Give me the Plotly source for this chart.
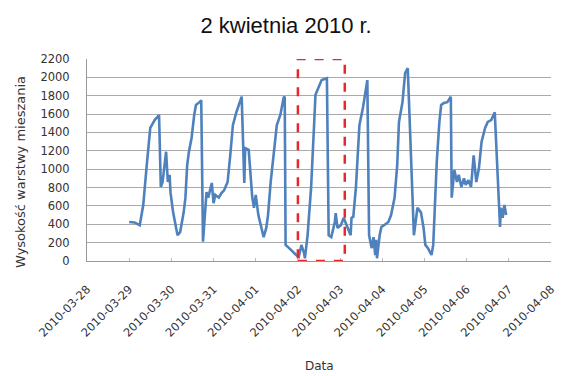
import plotly.graph_objects as go

# Data (time, mixing-layer height)
times = [
    "2010-03-29 00:00", "2010-03-29 03:00", "2010-03-29 06:00", "2010-03-29 08:00",
    "2010-03-29 10:00", "2010-03-29 12:00", "2010-03-29 14:30", "2010-03-29 17:00",
    "2010-03-29 18:00", "2010-03-29 19:00", "2010-03-29 21:00", "2010-03-29 22:00",
    "2010-03-29 23:00", "2010-03-29 23:30", "2010-03-30 01:00", "2010-03-30 03:30",
    "2010-03-30 05:00", "2010-03-30 07:00", "2010-03-30 08:00", "2010-03-30 09:00",
    "2010-03-30 10:00", "2010-03-30 11:30", "2010-03-30 13:00", "2010-03-30 14:00",
    "2010-03-30 16:00", "2010-03-30 17:00", "2010-03-30 18:00", "2010-03-30 20:00",
    "2010-03-30 21:00", "2010-03-30 23:00", "2010-03-31 00:00", "2010-03-31 01:00",
    "2010-03-31 03:00", "2010-03-31 04:30", "2010-03-31 06:00", "2010-03-31 08:00",
    "2010-03-31 09:30", "2010-03-31 11:00", "2010-03-31 13:00", "2010-03-31 16:00",
    "2010-03-31 17:30", "2010-03-31 18:00", "2010-03-31 20:00", "2010-03-31 21:00",
    "2010-03-31 22:00", "2010-03-31 23:00", "2010-04-01 00:00", "2010-04-01 01:30",
    "2010-04-01 03:00", "2010-04-01 04:30", "2010-04-01 06:00", "2010-04-01 07:00",
    "2010-04-01 08:30", "2010-04-01 10:30", "2010-04-01 12:00", "2010-04-01 14:00",
    "2010-04-01 16:00", "2010-04-01 16:30", "2010-04-01 17:00", "2010-04-01 19:00",
    "2010-04-01 21:00", "2010-04-01 23:00", "2010-04-02 00:30", "2010-04-02 02:00",
    "2010-04-02 03:30", "2010-04-02 04:00", "2010-04-02 05:30", "2010-04-02 07:30",
    "2010-04-02 09:00", "2010-04-02 10:00", "2010-04-02 13:30", "2010-04-02 16:30",
    "2010-04-02 17:30", "2010-04-02 19:00", "2010-04-02 21:00", "2010-04-02 21:30",
    "2010-04-02 22:30", "2010-04-03 00:30", "2010-04-03 02:00", "2010-04-03 03:30",
    "2010-04-03 05:00", "2010-04-03 06:00", "2010-04-03 06:30", "2010-04-03 07:30",
    "2010-04-03 09:00", "2010-04-03 10:00", "2010-04-03 11:00", "2010-04-03 13:00",
    "2010-04-03 14:30", "2010-04-03 15:30", "2010-04-03 16:30", "2010-04-03 18:00",
    "2010-04-03 19:00", "2010-04-03 20:00", "2010-04-03 20:30", "2010-04-03 21:00",
    "2010-04-03 22:30", "2010-04-03 23:30", "2010-04-04 01:00", "2010-04-04 03:30",
    "2010-04-04 05:00", "2010-04-04 07:00", "2010-04-04 08:30", "2010-04-04 09:30",
    "2010-04-04 11:30", "2010-04-04 12:30", "2010-04-04 13:00", "2010-04-04 14:30",
    "2010-04-04 18:00", "2010-04-04 20:00", "2010-04-04 21:00", "2010-04-04 22:00",
    "2010-04-04 23:30", "2010-04-05 00:30", "2010-04-05 02:00", "2010-04-05 04:00",
    "2010-04-05 05:00", "2010-04-05 06:00", "2010-04-05 07:00", "2010-04-05 08:30",
    "2010-04-05 09:30", "2010-04-05 11:00", "2010-04-05 13:00", "2010-04-05 15:00",
    "2010-04-05 15:30", "2010-04-05 17:00", "2010-04-05 18:30", "2010-04-05 19:30",
    "2010-04-05 21:00", "2010-04-05 22:30", "2010-04-05 23:30", "2010-04-06 01:00",
    "2010-04-06 02:30", "2010-04-06 04:00", "2010-04-06 05:30", "2010-04-06 07:00",
    "2010-04-06 08:30", "2010-04-06 10:30", "2010-04-06 12:00", "2010-04-06 14:00",
    "2010-04-06 16:00", "2010-04-06 19:00", "2010-04-06 19:30", "2010-04-06 20:30",
    "2010-04-06 21:30", "2010-04-06 22:30",
]
heights = [
    425, 420, 390, 610,
    1045, 1450, 1535, 1590,
    806, 860, 1190, 860,
    940, 750, 530, 280,
    315, 530, 690, 1045,
    1190, 1340, 1590, 1700,
    1730, 1750, 210, 750,
    690, 850, 630, 720,
    690, 740, 770, 860,
    1150, 1480, 1620, 1790,
    850, 1230, 1210, 940,
    700, 580, 720, 500,
    360, 260, 360, 500,
    860, 1230, 1480, 1590,
    1790, 1780, 175, 140,
    100, 65, 45, 175,
    85, 30, 280, 800,
    1400, 1810, 1970, 1990,
    280, 260, 425, 520,
    360, 390, 470, 390,
    315, 280, 470, 480,
    800, 1150, 1480, 1670,
    1840, 1970, 280, 140,
    260, 65, 230, 30,
    280, 370, 390, 425,
    500, 690, 1045, 1515,
    1730, 1950, 2045, 2100,
    280, 580, 560, 530,
    360, 175, 140, 65,
    175, 610, 1080, 1515,
    1700, 1720, 1730, 1790,
    690, 990, 860, 940,
    806, 900, 830, 880,
    806, 1150, 860, 1010,
    1300, 1450, 1515, 1535,
    1620, 370, 580, 470,
    610, 500,
]

x_range = ["2010-03-28", "2010-04-08"]
y_range = [0, 2200]
highlight = ["2010-04-02 00:00", "2010-04-03 02:40"]

title_text = "2 kwietnia 2010 r."
x_title = "Data"
y_title = "Wysokość warstwy mieszania"

fig = go.Figure()
fig.add_trace(go.Scatter(
    x=times, y=heights, mode="lines",
    line=dict(color="#4f81bd", width=2.6),
    showlegend=False,
))

fig.add_shape(
    type="rect", xref="x", yref="y",
    x0=highlight[0], x1=highlight[1], y0=y_range[0], y1=y_range[1],
    line=dict(color="#e8262b", width=2.5, dash="dash"),
    fillcolor="rgba(0,0,0,0)", layer="above",
)

font_family = "DejaVu Sans, Liberation Sans, Arial, sans-serif"

fig.update_layout(
    width=561, height=376,
    paper_bgcolor="white", plot_bgcolor="white",
    margin=dict(l=87, r=10, t=59, b=115),
    title=dict(text=title_text, x=0.51, xanchor="center",
               yref="container", y=1 - 25 / 376, yanchor="middle",
               font=dict(family="Liberation Sans, Arial, sans-serif", size=22, color="#111")),
    font=dict(family=font_family, size=11, color="#444"),
)

fig.update_xaxes(
    type="date", range=x_range, dtick=86400000, tick0="2010-03-28",
    tickformat="%Y-%m-%d", tickangle=-45,
    ticks="inside", ticklen=3, tickcolor="#bbb",
    ticklabelstandoff=16,
    showline=True, linecolor="#999", linewidth=1,
    showgrid=False, zeroline=False, automargin=False,
    tickfont=dict(family=font_family, size=11.5, color="#333"),
)
fig.update_yaxes(
    range=y_range, dtick=200,
    showgrid=True, gridcolor="#aaa", gridwidth=1,
    showline=True, linecolor="#999", linewidth=1,
    zeroline=False, ticks="", automargin=False,
    ticklabelstandoff=14,
    tickfont=dict(family=font_family, size=11.5, color="#333"),
)

fig.add_annotation(
    text=y_title, xref="paper", yref="paper",
    x=-(87 - 20) / (561 - 87 - 10), xanchor="center",
    y=1 - (172 - 59) / (261 - 59), yanchor="middle",
    textangle=-90, showarrow=False,
    font=dict(family=font_family, size=13, color="#333"),
)
fig.add_annotation(
    text=x_title, xref="paper", yref="paper",
    x=0.5, xanchor="center",
    y=-(366 - 261) / (261 - 59), yanchor="middle",
    showarrow=False,
    font=dict(family=font_family, size=12, color="#333"),
)

fig.write_html(
    "out.html",
    config={"displayModeBar": False},
    post_script="document.body.style.margin='0';document.body.style.padding='0';"
                "document.documentElement.style.overflow='hidden';",
)
